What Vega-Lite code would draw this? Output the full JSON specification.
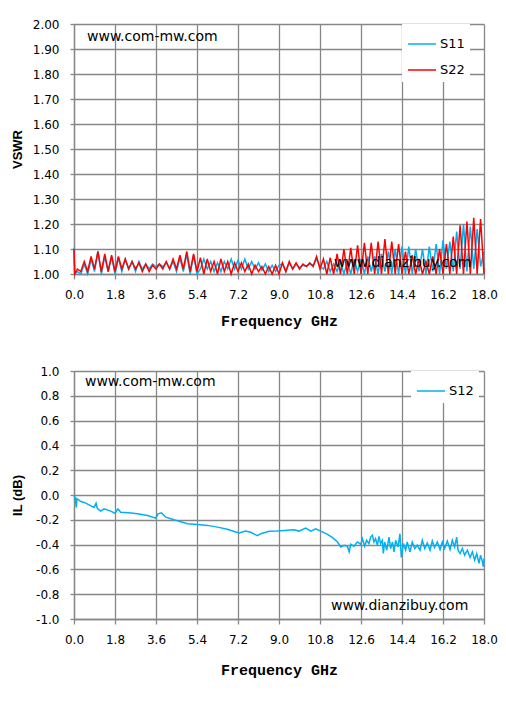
{
  "$schema": "https://vega.github.io/schema/vega-lite/v6.json",
  "background": "white",
  "padding": {"left": 11, "top": 18, "right": 5, "bottom": 5},
  "spacing": 37,
  "config": {
    "view": {"stroke": null},
    "font": "DejaVu Sans",
    "axis": {
      "gridColor": "#878787", "gridWidth": 1.3, "gridOpacity": 1,
      "domainColor": "#878787", "domainWidth": 1.3,
      "tickColor": "#878787", "tickWidth": 1.3, "tickCount": 11,
      "labelFont": "DejaVu Sans", "labelFontSize": 12, "labelColor": "black",
      "titleColor": "black", "labelFlush": false, "labelOverlap": false
    }
  },
  "resolve": {"scale": {"color": "independent"}, "legend": {"color": "independent"}},
  "vconcat": [
    {
      "width": 410,
      "height": 250,
      "layer": [
        {
          "data": {"values": [
            {"f": 0, "S11": 1.105, "S22": 1.10},
            {"f": 0.03, "S11": 1.0, "S22": 1.0},
            {"f": 0.15, "S11": 1.01, "S22": 1.02},
            {"f": 0.3, "S11": 1.0, "S22": 1.01},
            {"f": 0.45, "S11": 1.04, "S22": 1.05},
            {"f": 0.6, "S11": 1.0, "S22": 1.01},
            {"f": 0.75, "S11": 1.06, "S22": 1.07},
            {"f": 0.9, "S11": 1.01, "S22": 1.02},
            {"f": 1.05, "S11": 1.09, "S22": 1.09},
            {"f": 1.2, "S11": 1.0, "S22": 1.01},
            {"f": 1.35, "S11": 1.07, "S22": 1.08},
            {"f": 1.5, "S11": 1.01, "S22": 1.01},
            {"f": 1.65, "S11": 1.07, "S22": 1.075},
            {"f": 1.8, "S11": 1.0, "S22": 1.01},
            {"f": 1.95, "S11": 1.065, "S22": 1.07},
            {"f": 2.1, "S11": 1.01, "S22": 1.02},
            {"f": 2.25, "S11": 1.06, "S22": 1.06},
            {"f": 2.4, "S11": 1.02, "S22": 1.02},
            {"f": 2.55, "S11": 1.05, "S22": 1.05},
            {"f": 2.7, "S11": 1.01, "S22": 1.02},
            {"f": 2.85, "S11": 1.05, "S22": 1.045},
            {"f": 3.0, "S11": 1.02, "S22": 1.01},
            {"f": 3.15, "S11": 1.04, "S22": 1.04},
            {"f": 3.3, "S11": 1.02, "S22": 1.01},
            {"f": 3.45, "S11": 1.04, "S22": 1.035},
            {"f": 3.6, "S11": 1.03, "S22": 1.02},
            {"f": 3.75, "S11": 1.04, "S22": 1.04},
            {"f": 3.9, "S11": 1.03, "S22": 1.02},
            {"f": 4.05, "S11": 1.045, "S22": 1.05},
            {"f": 4.2, "S11": 1.02, "S22": 1.02},
            {"f": 4.35, "S11": 1.05, "S22": 1.06},
            {"f": 4.5, "S11": 1.01, "S22": 1.02},
            {"f": 4.65, "S11": 1.065, "S22": 1.075},
            {"f": 4.8, "S11": 1.01, "S22": 1.02},
            {"f": 4.95, "S11": 1.08, "S22": 1.09},
            {"f": 5.1, "S11": 1.0, "S22": 1.01},
            {"f": 5.25, "S11": 1.075, "S22": 1.08},
            {"f": 5.4, "S11": 1.0, "S22": 1.01},
            {"f": 5.55, "S11": 1.02, "S22": 1.065},
            {"f": 5.7, "S11": 1.06, "S22": 1.0},
            {"f": 5.85, "S11": 1.02, "S22": 1.06},
            {"f": 6.0, "S11": 1.05, "S22": 1.01},
            {"f": 6.15, "S11": 1.01, "S22": 1.05},
            {"f": 6.3, "S11": 1.045, "S22": 1.0},
            {"f": 6.45, "S11": 1.01, "S22": 1.06},
            {"f": 6.6, "S11": 1.05, "S22": 1.01},
            {"f": 6.75, "S11": 1.02, "S22": 1.05},
            {"f": 6.9, "S11": 1.06, "S22": 1.0},
            {"f": 7.05, "S11": 1.02, "S22": 1.045},
            {"f": 7.2, "S11": 1.055, "S22": 1.01},
            {"f": 7.35, "S11": 1.02, "S22": 1.045},
            {"f": 7.5, "S11": 1.06, "S22": 1.01},
            {"f": 7.65, "S11": 1.02, "S22": 1.04},
            {"f": 7.8, "S11": 1.05, "S22": 1.0},
            {"f": 7.95, "S11": 1.02, "S22": 1.035},
            {"f": 8.1, "S11": 1.045, "S22": 1.01},
            {"f": 8.25, "S11": 1.015, "S22": 1.03},
            {"f": 8.4, "S11": 1.04, "S22": 1.0},
            {"f": 8.55, "S11": 1.01, "S22": 1.03},
            {"f": 8.7, "S11": 1.035, "S22": 1.0},
            {"f": 8.85, "S11": 1.01, "S22": 1.035},
            {"f": 9.0, "S11": 1.035, "S22": 1.0},
            {"f": 9.15, "S11": 1.04, "S22": 1.045},
            {"f": 9.3, "S11": 1.01, "S22": 1.01},
            {"f": 9.45, "S11": 1.045, "S22": 1.05},
            {"f": 9.6, "S11": 1.02, "S22": 1.02},
            {"f": 9.75, "S11": 1.04, "S22": 1.045},
            {"f": 9.9, "S11": 1.025, "S22": 1.02},
            {"f": 10.05, "S11": 1.035, "S22": 1.04},
            {"f": 10.2, "S11": 1.03, "S22": 1.03},
            {"f": 10.35, "S11": 1.04, "S22": 1.045},
            {"f": 10.5, "S11": 1.035, "S22": 1.03},
            {"f": 10.65, "S11": 1.06, "S22": 1.07},
            {"f": 10.8, "S11": 1.03, "S22": 1.02},
            {"f": 10.95, "S11": 1.02, "S22": 1.06},
            {"f": 11.1, "S11": 1.05, "S22": 1.0},
            {"f": 11.25, "S11": 1.01, "S22": 1.065},
            {"f": 11.4, "S11": 1.04, "S22": 1.0},
            {"f": 11.55, "S11": 1.01, "S22": 1.08},
            {"f": 11.7, "S11": 1.05, "S22": 1.0},
            {"f": 11.85, "S11": 1.0, "S22": 1.10},
            {"f": 12.0, "S11": 1.05, "S22": 1.0},
            {"f": 12.15, "S11": 1.0, "S22": 1.105},
            {"f": 12.3, "S11": 1.06, "S22": 1.0},
            {"f": 12.45, "S11": 1.01, "S22": 1.115},
            {"f": 12.6, "S11": 1.06, "S22": 1.0},
            {"f": 12.75, "S11": 1.0, "S22": 1.125},
            {"f": 12.9, "S11": 1.07, "S22": 1.0},
            {"f": 13.05, "S11": 1.01, "S22": 1.125},
            {"f": 13.2, "S11": 1.07, "S22": 1.0},
            {"f": 13.35, "S11": 1.0, "S22": 1.13},
            {"f": 13.5, "S11": 1.08, "S22": 1.0},
            {"f": 13.65, "S11": 1.01, "S22": 1.14},
            {"f": 13.8, "S11": 1.09, "S22": 1.0},
            {"f": 13.95, "S11": 1.0, "S22": 1.13},
            {"f": 14.1, "S11": 1.10, "S22": 1.0},
            {"f": 14.25, "S11": 1.0, "S22": 1.12},
            {"f": 14.4, "S11": 1.11, "S22": 1.0},
            {"f": 14.55, "S11": 1.0, "S22": 1.09},
            {"f": 14.7, "S11": 1.11, "S22": 1.0},
            {"f": 14.85, "S11": 1.0, "S22": 1.075},
            {"f": 15.0, "S11": 1.10, "S22": 1.0},
            {"f": 15.15, "S11": 1.01, "S22": 1.06},
            {"f": 15.3, "S11": 1.10, "S22": 1.0},
            {"f": 15.45, "S11": 1.0, "S22": 1.05},
            {"f": 15.6, "S11": 1.11, "S22": 1.0},
            {"f": 15.75, "S11": 1.01, "S22": 1.07},
            {"f": 15.9, "S11": 1.12, "S22": 1.0},
            {"f": 16.05, "S11": 1.0, "S22": 1.10},
            {"f": 16.2, "S11": 1.135, "S22": 1.0},
            {"f": 16.35, "S11": 1.02, "S22": 1.12},
            {"f": 16.5, "S11": 1.13, "S22": 1.0},
            {"f": 16.65, "S11": 1.01, "S22": 1.15},
            {"f": 16.8, "S11": 1.17, "S22": 1.0},
            {"f": 16.95, "S11": 1.02, "S22": 1.195},
            {"f": 17.1, "S11": 1.20, "S22": 1.0},
            {"f": 17.25, "S11": 1.01, "S22": 1.21},
            {"f": 17.4, "S11": 1.19, "S22": 1.0},
            {"f": 17.55, "S11": 1.02, "S22": 1.225},
            {"f": 17.7, "S11": 1.18, "S22": 1.0},
            {"f": 17.85, "S11": 1.03, "S22": 1.22},
            {"f": 18.0, "S11": 1.09, "S22": 1.0}
          ]},
          "transform": [{"fold": ["S11", "S22"], "as": ["series", "value"]}],
          "mark": {"type": "line", "strokeWidth": 1.5},
          "encoding": {
            "x": {
              "field": "f", "type": "quantitative",
              "scale": {"domain": [0, 18], "nice": false},
              "axis": {
                "values": [0, 1.8, 3.6, 5.4, 7.2, 9.0, 10.8, 12.6, 14.4, 16.2, 18.0],
                "tickCount": 11,
                "format": ".1f", "tickSize": 5, "labelPadding": 10,
                "title": "Frequency GHz", "titleFont": "Liberation Mono",
                "titleFontSize": 15, "titleFontWeight": "bold", "titlePadding": 13
              }
            },
            "y": {
              "field": "value", "type": "quantitative",
              "scale": {"domain": [1, 2], "nice": false, "zero": false},
              "axis": {
                "values": [1, 1.1, 1.2, 1.3, 1.4, 1.5, 1.6, 1.7, 1.8, 1.9, 2.0],
                "tickCount": 11,
                "format": ".2f", "tickSize": 4, "labelPadding": 11,
                "title": "VSWR", "titleFont": "Liberation Sans", "titleFontSize": 13,
                "titleFontWeight": "bold", "titleX": -50
              }
            },
            "color": {
              "field": "series", "type": "nominal",
              "scale": {"domain": ["S11", "S22"], "range": ["#00B0F0", "#FF0000"]},
              "legend": {
                "title": null, "orient": "none", "legendX": 328, "legendY": 0,
                "fillColor": "white", "padding": 5, "symbolType": "stroke",
                "symbolSize": 784, "symbolStrokeWidth": 1.5, "rowPadding": 4,
                "labelFont": "DejaVu Sans", "labelFontSize": 13, "labelColor": "black", "labelOffset": 3
              }
            }
          }
        },
        {
          "data": {"values": [
            {"f": 0.57, "v": 1.948, "t": "www.com-mw.com"},
            {"f": 11.41, "v": 1.044, "t": "www.dianzibuy.com"}
          ]},
          "mark": {"type": "text", "align": "left", "baseline": "middle", "font": "DejaVu Sans", "fontSize": 14, "color": "black"},
          "encoding": {
            "x": {"field": "f", "type": "quantitative"},
            "y": {"field": "v", "type": "quantitative"},
            "text": {"field": "t"}
          }
        }
      ]
    },
    {
      "width": 410,
      "height": 248,
      "layer": [
        {
          "data": {"values": [
            {"f": 0.0, "v": -0.005, "series": "S12"},
            {"f": 0.05, "v": -0.02, "series": "S12"},
            {"f": 0.1, "v": -0.1, "series": "S12"},
            {"f": 0.13, "v": -0.03, "series": "S12"},
            {"f": 0.3, "v": -0.053, "series": "S12"},
            {"f": 0.45, "v": -0.06, "series": "S12"},
            {"f": 0.66, "v": -0.08, "series": "S12"},
            {"f": 0.88, "v": -0.1, "series": "S12"},
            {"f": 0.97, "v": -0.067, "series": "S12"},
            {"f": 1.02, "v": -0.107, "series": "S12"},
            {"f": 1.17, "v": -0.13, "series": "S12"},
            {"f": 1.32, "v": -0.112, "series": "S12"},
            {"f": 1.61, "v": -0.13, "series": "S12"},
            {"f": 1.8, "v": -0.147, "series": "S12"},
            {"f": 1.93, "v": -0.112, "series": "S12"},
            {"f": 2.05, "v": -0.139, "series": "S12"},
            {"f": 2.4, "v": -0.143, "series": "S12"},
            {"f": 2.78, "v": -0.152, "series": "S12"},
            {"f": 3.22, "v": -0.165, "series": "S12"},
            {"f": 3.59, "v": -0.187, "series": "S12"},
            {"f": 3.69, "v": -0.152, "series": "S12"},
            {"f": 3.84, "v": -0.144, "series": "S12"},
            {"f": 4.03, "v": -0.179, "series": "S12"},
            {"f": 4.39, "v": -0.2, "series": "S12"},
            {"f": 4.76, "v": -0.219, "series": "S12"},
            {"f": 4.98, "v": -0.232, "series": "S12"},
            {"f": 5.42, "v": -0.237, "series": "S12"},
            {"f": 5.86, "v": -0.245, "series": "S12"},
            {"f": 6.3, "v": -0.259, "series": "S12"},
            {"f": 6.73, "v": -0.277, "series": "S12"},
            {"f": 7.1, "v": -0.299, "series": "S12"},
            {"f": 7.25, "v": -0.307, "series": "S12"},
            {"f": 7.54, "v": -0.291, "series": "S12"},
            {"f": 7.76, "v": -0.301, "series": "S12"},
            {"f": 8.05, "v": -0.328, "series": "S12"},
            {"f": 8.2, "v": -0.312, "series": "S12"},
            {"f": 8.57, "v": -0.293, "series": "S12"},
            {"f": 8.93, "v": -0.291, "series": "S12"},
            {"f": 9.37, "v": -0.285, "series": "S12"},
            {"f": 9.66, "v": -0.28, "series": "S12"},
            {"f": 9.88, "v": -0.291, "series": "S12"},
            {"f": 10.17, "v": -0.267, "series": "S12"},
            {"f": 10.4, "v": -0.291, "series": "S12"},
            {"f": 10.61, "v": -0.272, "series": "S12"},
            {"f": 10.83, "v": -0.291, "series": "S12"},
            {"f": 11.13, "v": -0.317, "series": "S12"},
            {"f": 11.35, "v": -0.344, "series": "S12"},
            {"f": 11.57, "v": -0.379, "series": "S12"},
            {"f": 11.71, "v": -0.419, "series": "S12"},
            {"f": 11.86, "v": -0.405, "series": "S12"},
            {"f": 12.0, "v": -0.413, "series": "S12"},
            {"f": 12.08, "v": -0.459, "series": "S12"},
            {"f": 12.15, "v": -0.397, "series": "S12"},
            {"f": 12.29, "v": -0.413, "series": "S12"},
            {"f": 12.44, "v": -0.379, "series": "S12"},
            {"f": 12.59, "v": -0.397, "series": "S12"},
            {"f": 12.66, "v": -0.352, "series": "S12"},
            {"f": 12.76, "v": -0.413, "series": "S12"},
            {"f": 12.85, "v": -0.365, "series": "S12"},
            {"f": 12.95, "v": -0.392, "series": "S12"},
            {"f": 13.02, "v": -0.339, "series": "S12"},
            {"f": 13.1, "v": -0.325, "series": "S12"},
            {"f": 13.17, "v": -0.379, "series": "S12"},
            {"f": 13.24, "v": -0.352, "series": "S12"},
            {"f": 13.32, "v": -0.405, "series": "S12"},
            {"f": 13.39, "v": -0.333, "series": "S12"},
            {"f": 13.46, "v": -0.392, "series": "S12"},
            {"f": 13.54, "v": -0.365, "series": "S12"},
            {"f": 13.58, "v": -0.472, "series": "S12"},
            {"f": 13.64, "v": -0.379, "series": "S12"},
            {"f": 13.73, "v": -0.445, "series": "S12"},
            {"f": 13.83, "v": -0.339, "series": "S12"},
            {"f": 13.9, "v": -0.432, "series": "S12"},
            {"f": 13.98, "v": -0.379, "series": "S12"},
            {"f": 14.05, "v": -0.459, "series": "S12"},
            {"f": 14.12, "v": -0.365, "series": "S12"},
            {"f": 14.23, "v": -0.419, "series": "S12"},
            {"f": 14.31, "v": -0.312, "series": "S12"},
            {"f": 14.37, "v": -0.504, "series": "S12"},
            {"f": 14.46, "v": -0.392, "series": "S12"},
            {"f": 14.56, "v": -0.445, "series": "S12"},
            {"f": 14.63, "v": -0.379, "series": "S12"},
            {"f": 14.75, "v": -0.459, "series": "S12"},
            {"f": 14.85, "v": -0.379, "series": "S12"},
            {"f": 14.96, "v": -0.432, "series": "S12"},
            {"f": 15.07, "v": -0.405, "series": "S12"},
            {"f": 15.19, "v": -0.445, "series": "S12"},
            {"f": 15.29, "v": -0.365, "series": "S12"},
            {"f": 15.4, "v": -0.432, "series": "S12"},
            {"f": 15.51, "v": -0.387, "series": "S12"},
            {"f": 15.63, "v": -0.445, "series": "S12"},
            {"f": 15.73, "v": -0.371, "series": "S12"},
            {"f": 15.83, "v": -0.424, "series": "S12"},
            {"f": 15.95, "v": -0.379, "series": "S12"},
            {"f": 16.07, "v": -0.44, "series": "S12"},
            {"f": 16.17, "v": -0.379, "series": "S12"},
            {"f": 16.27, "v": -0.432, "series": "S12"},
            {"f": 16.39, "v": -0.371, "series": "S12"},
            {"f": 16.51, "v": -0.44, "series": "S12"},
            {"f": 16.61, "v": -0.365, "series": "S12"},
            {"f": 16.71, "v": -0.419, "series": "S12"},
            {"f": 16.8, "v": -0.339, "series": "S12"},
            {"f": 16.86, "v": -0.445, "series": "S12"},
            {"f": 16.95, "v": -0.472, "series": "S12"},
            {"f": 17.05, "v": -0.432, "series": "S12"},
            {"f": 17.15, "v": -0.485, "series": "S12"},
            {"f": 17.27, "v": -0.445, "series": "S12"},
            {"f": 17.39, "v": -0.504, "series": "S12"},
            {"f": 17.49, "v": -0.459, "series": "S12"},
            {"f": 17.59, "v": -0.525, "series": "S12"},
            {"f": 17.68, "v": -0.472, "series": "S12"},
            {"f": 17.78, "v": -0.552, "series": "S12"},
            {"f": 17.85, "v": -0.485, "series": "S12"},
            {"f": 17.93, "v": -0.539, "series": "S12"},
            {"f": 17.97, "v": -0.579, "series": "S12"},
            {"f": 18.0, "v": -0.512, "series": "S12"}
          ]},
          "mark": {"type": "line", "strokeWidth": 1.5},
          "encoding": {
            "x": {
              "field": "f", "type": "quantitative",
              "scale": {"domain": [0, 18], "nice": false},
              "axis": {
                "values": [0, 1.8, 3.6, 5.4, 7.2, 9.0, 10.8, 12.6, 14.4, 16.2, 18.0],
                "tickCount": 11,
                "format": ".1f", "tickSize": 5, "labelPadding": 10,
                "title": "Frequency GHz", "titleFont": "Liberation Mono",
                "titleFontSize": 15, "titleFontWeight": "bold", "titlePadding": 17
              }
            },
            "y": {
              "field": "v", "type": "quantitative",
              "scale": {"domain": [-1, 1], "nice": false, "zero": false},
              "axis": {
                "values": [-1, -0.8, -0.6, -0.4, -0.2, 0, 0.2, 0.4, 0.6, 0.8, 1],
                "tickCount": 11,
                "labelExpr": "replace(format(datum.value, '.1f'), '\u2212', '-')",
                "tickSize": 4, "labelPadding": 11,
                "title": "IL (dB)", "titleFont": "Liberation Sans", "titleFontSize": 13,
                "titleFontWeight": "bold", "titleX": -50
              }
            },
            "color": {
              "field": "series", "type": "nominal",
              "scale": {"domain": ["S12"], "range": ["#00B0F0"]},
              "legend": {
                "title": null, "orient": "none", "legendX": 337, "legendY": 0,
                "fillColor": "white", "padding": 5, "symbolType": "stroke",
                "symbolSize": 784, "symbolStrokeWidth": 1.5, "rowPadding": 0,
                "labelFont": "DejaVu Sans", "labelFontSize": 13, "labelColor": "black", "labelOffset": 3
              }
            }
          }
        },
        {
          "data": {"values": [
            {"f": 0.48, "v": 0.911, "t": "www.com-mw.com"},
            {"f": 11.28, "v": -0.895, "t": "www.dianzibuy.com"}
          ]},
          "mark": {"type": "text", "align": "left", "baseline": "middle", "font": "DejaVu Sans", "fontSize": 14, "color": "black"},
          "encoding": {
            "x": {"field": "f", "type": "quantitative"},
            "y": {"field": "v", "type": "quantitative"},
            "text": {"field": "t"}
          }
        }
      ]
    }
  ]
}
